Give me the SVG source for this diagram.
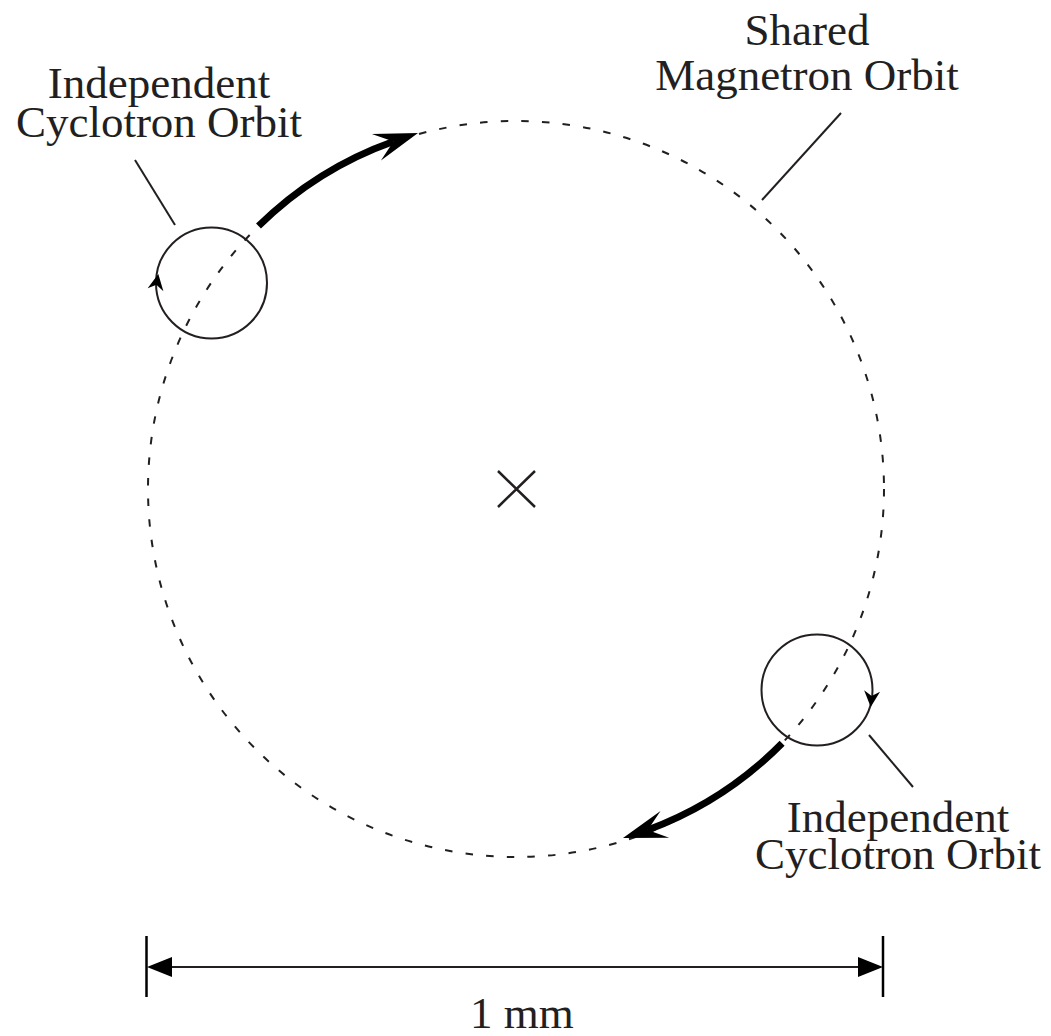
<svg xmlns="http://www.w3.org/2000/svg" width="1051" height="1036" viewBox="0 0 1051 1036">
<style>
.lbl{font-family:"Liberation Serif","Times New Roman",serif;font-size:45px;fill:#231f20;text-anchor:middle}
.ln{stroke:#231f20;stroke-width:2;fill:none}
.thick{stroke:#000;stroke-width:7;fill:none;stroke-linecap:butt}
.head{fill:#000}
</style>
<defs>
<path id="bighead" d="M0,0 L-44,-14 L-26,0 L-44,14 Z"/>
<path id="smallhead" d="M0,0 L-16,-8 L-11,0 L-16,8 Z"/>
<path id="dimhead" d="M0,0 L-25,-10 L-25,10 Z"/>
</defs>
<rect width="1051" height="1036" fill="#fff"/>
<g id="magnetron-orbit">
<circle cx="516" cy="489" r="368" fill="none" stroke="#231f20" stroke-width="2" stroke-dasharray="7.5 13.2"/>
<path d="M498,471 L535,507 M535,471 L498,507" stroke="#231f20" stroke-width="2.5" fill="none"/>
</g>
<g id="cyclotron-top">
<circle cx="211.5" cy="283" r="55.5" class="ln"/>
<use href="#smallhead" class="head" transform="translate(158.3,274) rotate(-80)"/>
</g>
<g id="cyclotron-bottom">
<circle cx="817" cy="690" r="55.5" class="ln"/>
<use href="#smallhead" class="head" transform="translate(870.7,707) rotate(95)"/>
</g>
<g id="connectors">
<path class="thick" d="M258.5,226.1 A368,368 0 0 1 393.4,141.5"/>
<use href="#bighead" class="head" transform="translate(418,133) rotate(-19)"/>
<path class="thick" d="M782.1,743.2 A368,368 0 0 1 647.7,830"/>
<use href="#bighead" class="head" transform="translate(623,838) rotate(162)"/>
<line class="ln" x1="135" y1="160" x2="175" y2="225"/>
<line class="ln" x1="841" y1="113" x2="762" y2="200"/>
<line class="ln" x1="869" y1="735" x2="913" y2="787"/>
</g>
<g id="label-top-left">
<text class="lbl" x="159" y="98">Independent</text>
<text class="lbl" x="159" y="137">Cyclotron Orbit</text>
</g>
<g id="label-shared">
<text class="lbl" x="807" y="45">Shared</text>
<text class="lbl" x="807" y="90">Magnetron Orbit</text>
</g>
<g id="label-bottom-right">
<text class="lbl" x="898" y="832">Independent</text>
<text class="lbl" x="898" y="869">Cyclotron Orbit</text>
</g>
<g id="dimension">
<line x1="146.5" y1="936" x2="146.5" y2="997" stroke="#000" stroke-width="2.5"/>
<line x1="883" y1="936" x2="883" y2="997" stroke="#000" stroke-width="2.5"/>
<line x1="165" y1="967" x2="865" y2="967" stroke="#231f20" stroke-width="2"/>
<use href="#dimhead" class="head" transform="translate(147,967) rotate(180)"/>
<use href="#dimhead" class="head" transform="translate(883,967)"/>
<text class="lbl" x="522" y="1028">1 mm</text>
</g>
</svg>
